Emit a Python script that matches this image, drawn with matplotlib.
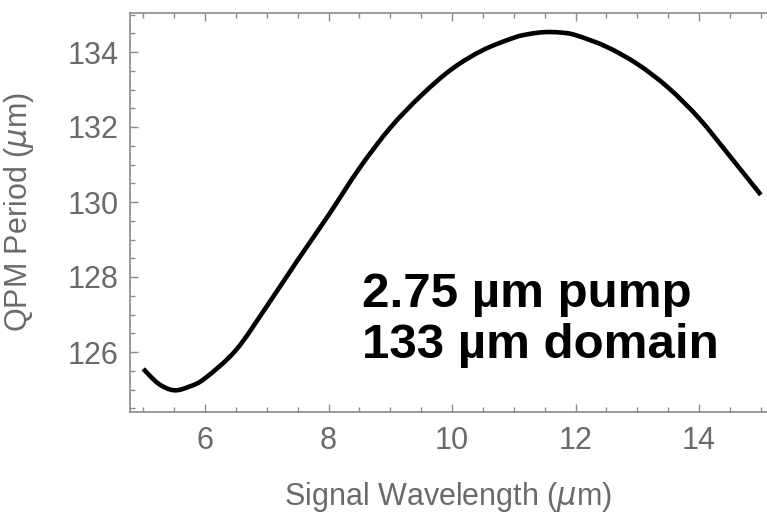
import numpy as np
import matplotlib
matplotlib.use("Agg")
from matplotlib import pyplot as plt
from matplotlib.ticker import MultipleLocator
from matplotlib.path import Path
from matplotlib.patches import PathPatch

# QPM period vs signal wavelength, 2.75 um pump
wavelength = [5.0, 5.25, 5.5, 5.75, 6.0, 6.5, 7.0, 7.5, 8.0, 8.5, 9.0, 9.5,
              10.0, 10.5, 11.0, 11.25, 11.5, 11.75, 12.0, 12.5, 13.0, 13.5,
              14.0, 14.5, 15.0]
period = [125.55, 125.15, 124.98, 125.08, 125.30, 126.05, 127.22, 128.45,
          129.65, 130.90, 131.98, 132.84, 133.55, 134.05, 134.38, 134.48,
          134.53, 134.52, 134.45, 134.14, 133.68, 133.05, 132.23, 131.22,
          130.19]
xticks = [6, 8, 10, 12, 14]
yticks = [126, 128, 130, 132, 134]

plt.rcParams['font.family'] = ['Liberation Sans', 'DejaVu Sans']
gray = '#6a6a6a'
axcol = '#8a8a8a'


def smooth_path(x, y):
    # Catmull-Rom through the points, written as cubic Bezier segments
    p = np.column_stack([x, y])
    verts = [p[0]]
    codes = [Path.MOVETO]
    n = len(p)
    for i in range(n - 1):
        p0 = p[i - 1] if i > 0 else p[i]
        p3 = p[i + 2] if i + 2 < n else p[i + 1]
        c1 = p[i] + (p[i + 1] - p0) / 6
        c2 = p[i + 1] - (p3 - p[i]) / 6
        verts += [c1, c2, p[i + 1]]
        codes += [Path.CURVE4] * 3
    return Path(verts, codes)


fig = plt.figure(figsize=(7.67, 5.17), dpi=100)
ax = fig.add_axes([130/767, 1 - 412/517, 1 - 130/767, (412 - 13)/517])

ax.add_patch(PathPatch(smooth_path(wavelength, period), fill=False,
                       edgecolor='black', lw=3.3, capstyle='butt',
                       joinstyle='round'))

ax.set_xlim(4.785, 15.10)
ax.set_ylim(124.4, 135.04)
ax.set_xticks(xticks)
ax.set_yticks(yticks)
ax.xaxis.set_minor_locator(MultipleLocator(0.5))
ax.yaxis.set_minor_locator(MultipleLocator(0.5))

ax.spines['right'].set_visible(False)
for s in ['left', 'bottom', 'top']:
    ax.spines[s].set_color(axcol)
    ax.spines[s].set_linewidth(1.2)

ax.tick_params(which='both', direction='in', top=True, right=False,
               color=axcol, width=1.0, labelcolor=gray, labelsize=22)
ax.tick_params(axis='x', pad=10)
ax.tick_params(axis='y', pad=8)
ax.tick_params(which='major', length=6)
ax.tick_params(which='minor', length=3.5)

ax.set_xlabel('Signal Wavelength ($\\mu$m)', color=gray, fontsize=22)
ax.set_ylabel('QPM Period ($\\mu$m)', color=gray, fontsize=22)
ax.xaxis.set_label_coords(0.5, -0.17)
ax.yaxis.set_label_coords(-0.148, 0.5)

ax.text((362 - 130)/637, 1 - (320 - 13)/399,
        '2.75 µm pump\n133 µm domain', transform=ax.transAxes,
        fontsize=35.5, fontweight='bold', color='black', va='center',
        ha='left', linespacing=1.15)

fig.savefig('out.png', dpi=100)
